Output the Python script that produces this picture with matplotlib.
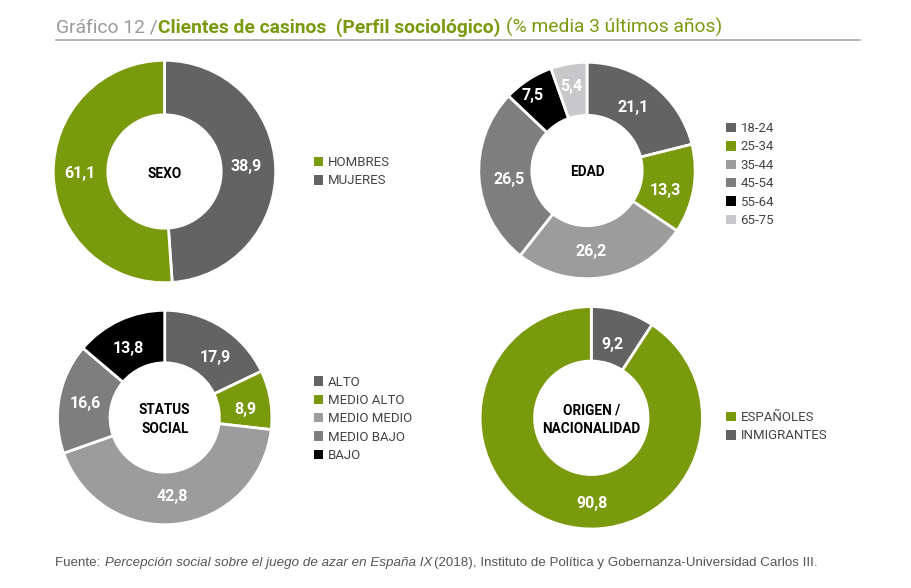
import matplotlib
matplotlib.use('Agg')
import matplotlib.pyplot as plt
from matplotlib.lines import Line2D

plt.rcParams['font.family'] = ['Roboto', 'DejaVu Sans']

GREEN = '#7a9a0e'
DARK = '#636363'
MID = '#9c9c9c'
MIDDARK = '#7e7e7e'
BLACK = '#000000'
LIGHT = '#c8c8ca'

sexo_labels = ['MUJERES', 'HOMBRES']
sexo_values = [38.9, 61.1]
# the source draws this ring out of step with its printed numbers, arc shares
sexo_arcs = [48.9, 51.1]
edad_labels = ['18-24', '25-34', '35-44', '45-54', '55-64', '65-75']
edad_values = [21.1, 13.3, 26.2, 26.5, 7.5, 5.4]
status_labels = ['ALTO', 'MEDIO ALTO', 'MEDIO MEDIO', 'MEDIO BAJO', 'BAJO']
status_values = [17.9, 8.9, 42.8, 16.6, 13.8]
origen_labels = ['INMIGRANTES', 'ESPAÑOLES']
origen_values = [9.2, 90.8]

W, H = 911, 588
fig = plt.figure(figsize=(W / 100, H / 100), dpi=100)

# overlay in pixel coords for title, rule and source
bg = fig.add_axes([0, 0, 1, 1])
bg.set_xlim(0, W)
bg.set_ylim(H, 0)
bg.axis('off')


def donut(cx, cy, r, arcs, printed, labels, colors, center, legend_x, legend_y, nudges, legend_order=None):
    r = r + 0.7  # the white edge eats into the outer rim
    ax = fig.add_axes([(cx - r) / W, 1 - (cy + r) / H, 2 * r / W, 2 * r / H])
    wedges, _, pct = ax.pie(arcs, colors=colors, startangle=90, counterclock=False, radius=1,
                            wedgeprops=dict(width=0.49, edgecolor='white', linewidth=2.0),
                            autopct='%.1f', pctdistance=0.73)
    # numbers sit by hand in the source, nudges are in pixels
    for t, v, (dx, dy) in zip(pct, printed, nudges):
        x, y = t.get_position()
        t.set_position((x + dx / r, y - dy / r))
        t.set_text(f'{v:.1f}'.replace('.', ','))
        t.set_color('white')
        t.set_fontweight('bold')
        t.set_fontsize(11.5)
    ax.set_xlim(-1, 1)
    ax.set_ylim(-1, 1)
    ax.text(0, -2 / r, center, ha='center', va='center', fontsize=9.8, fontweight='bold',
            color='black', linespacing=1.45)
    order = legend_order or range(len(labels))
    handles = [wedges[i] for i in order]
    names = [labels[i] for i in order]
    leg = fig.legend(handles, names, loc='upper left', frameon=False,
                     bbox_to_anchor=(legend_x / W, 1 - legend_y / H), borderaxespad=0, borderpad=0,
                     handlelength=0.72, handleheight=0.72, handletextpad=0.38,
                     labelspacing=0.41, fontsize=9.5)
    for h in leg.get_patches():
        h.set_edgecolor('none')
        h.set_linewidth(0)
    for t in leg.get_texts():
        t.set_color('#444444')


donut(164.5, 171.5, 110.5, sexo_arcs, sexo_values, sexo_labels, [DARK, GREEN], 'SEXO', 313.5, 156,
      [(0, -2), (-3, -1)], [1, 0])
donut(587, 170.5, 107.5, edad_values, edad_values, edad_labels, [DARK, GREEN, MID, MIDDARK, BLACK, LIGHT],
      'EDAD', 726, 122, [(-2, -1), (1, 6), (-8, 3), (1, 3), (-11, -9), (-2, -6)])
donut(164.7, 417.5, 106.5, status_values, status_values, status_labels, [DARK, GREEN, MID, MIDDARK, BLACK],
      'STATUS\nSOCIAL', 313.5, 375.5, [(9, 6), (3, 5), (-1, 1), (-2, 0), (-4, 2)])
donut(591.3, 417.8, 110.5, origen_values, origen_values, origen_labels, [DARK, GREEN],
      'ORIGEN /\nNACIONALIDAD', 726, 411, [(-2, 5), (24, 8)], [1, 0])

bg.text(56, 33, 'Gráfico 12 /', fontsize=13.85, color='#9a9a9a', va='baseline', ha='left')
bg.text(158, 33, 'Clientes de casinos  (Perfil sociológico)', fontsize=13.85, color=GREEN,
        fontweight='bold', va='baseline', ha='left')
bg.text(506, 33, '(% media 3 últimos años)', fontsize=13.85, color=GREEN, va='baseline', ha='left')
bg.add_line(Line2D([56, 860], [39.5, 39.5], color='#a8a8a8', lw=1.2))

bg.text(55, 566, 'Fuente: ', fontsize=9.65, color='#555555', family=['Liberation Sans'], ha='left', va='baseline')
bg.text(105, 566, 'Percepción social sobre el juego de azar en España IX', fontsize=9.65, color='#555555',
        family=['Liberation Sans'], style='italic', ha='left', va='baseline')
bg.text(434, 566, '(2018), Instituto de Política y Gobernanza-Universidad Carlos III.', fontsize=9.65,
        color='#555555', family=['Liberation Sans'], ha='left', va='baseline')

fig.savefig('out.png', dpi=100)
